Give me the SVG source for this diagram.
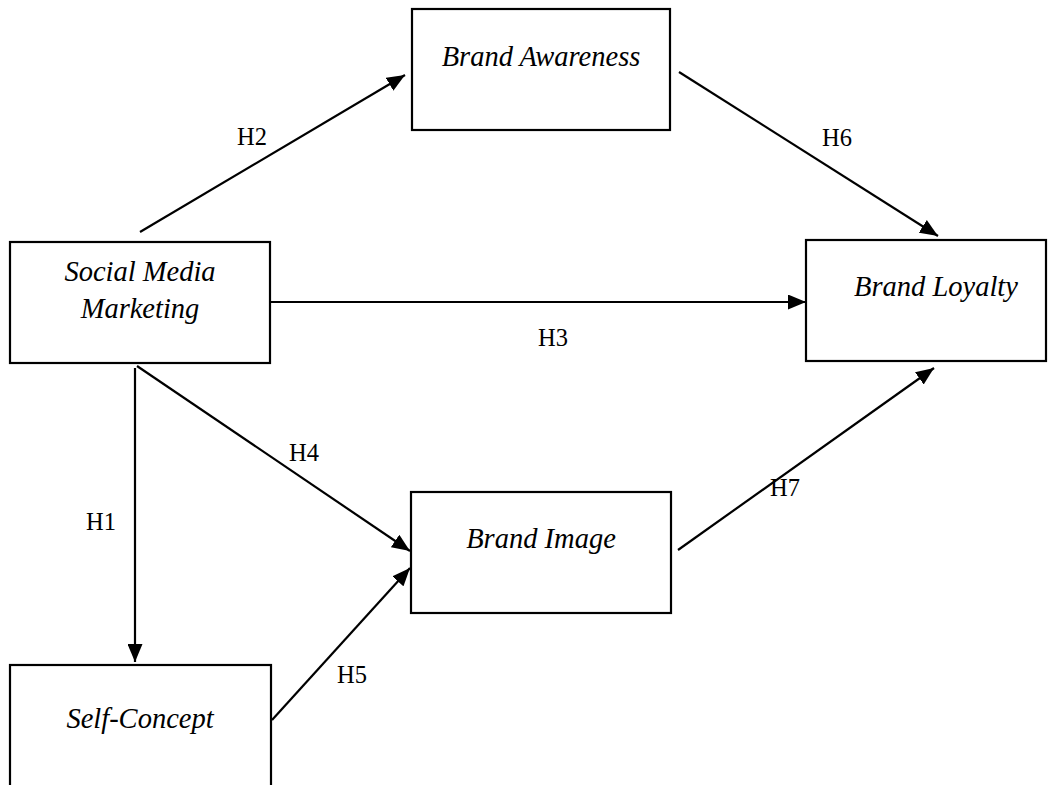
<svg xmlns="http://www.w3.org/2000/svg" width="1058" height="785" viewBox="0 0 1058 785">
  <style>
    .box { fill: #ffffff; stroke: #000000; stroke-width: 2.2; }
    .name { font-family: "Liberation Serif", "Times New Roman", serif; font-style: italic; font-size: 28.5px; fill: #000000; text-anchor: middle; }
    .hyp { font-family: "Liberation Serif", "Times New Roman", serif; font-size: 24.5px; fill: #000000; text-anchor: middle; }
    .edge { stroke: #000000; stroke-width: 2.2; fill: none; marker-end: url(#head); }
  </style>
  <defs>
    <marker id="head" markerUnits="userSpaceOnUse" markerWidth="19" markerHeight="15" refX="18" refY="7.5" orient="auto">
      <path d="M0,0 L18,7.5 L0,15 Z" fill="#000000"/>
    </marker>
  </defs>
  <rect width="1058" height="785" fill="#ffffff"/>

  <g id="connectors">
    <line class="edge" x1="140" y1="232" x2="405" y2="75"/>
    <line class="edge" x1="679" y1="72" x2="938" y2="236"/>
    <line class="edge" x1="271" y1="302" x2="806" y2="302"/>
    <line class="edge" x1="137" y1="366" x2="410" y2="551"/>
    <line class="edge" x1="272" y1="720" x2="410" y2="568"/>
    <line class="edge" x1="678" y1="550" x2="934" y2="368"/>
    <line class="edge" x1="135" y1="368" x2="135" y2="662"/>
    <text class="hyp" x="252" y="145">H2</text>
    <text class="hyp" x="837" y="146">H6</text>
    <text class="hyp" x="553" y="346">H3</text>
    <text class="hyp" x="304" y="461">H4</text>
    <text class="hyp" x="101" y="530">H1</text>
    <text class="hyp" x="785" y="496">H7</text>
    <text class="hyp" x="352" y="683">H5</text>
  </g>

  <g id="brand-awareness">
    <rect class="box" x="412" y="9" width="258" height="121"/>
    <text class="name" x="541" y="66">Brand Awareness</text>
  </g>
  <g id="social-media-marketing">
    <rect class="box" x="10" y="242" width="260" height="121"/>
    <text class="name" x="140" y="281">Social Media</text>
    <text class="name" x="140" y="318">Marketing</text>
  </g>
  <g id="brand-loyalty">
    <rect class="box" x="806" y="240" width="240" height="121"/>
    <text class="name" x="936" y="296">Brand Loyalty</text>
  </g>
  <g id="brand-image">
    <rect class="box" x="411" y="492" width="260" height="121"/>
    <text class="name" x="541" y="548">Brand Image</text>
  </g>
  <g id="self-concept">
    <rect class="box" x="10" y="665" width="261" height="140"/>
    <text class="name" x="140" y="728">Self-Concept</text>
  </g>
</svg>
